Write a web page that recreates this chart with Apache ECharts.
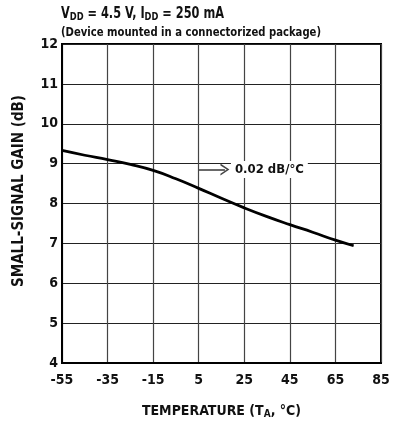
<!DOCTYPE html>
<html><head><meta charset="utf-8">
<script src="https://cdn.jsdelivr.net/npm/echarts@6/dist/echarts.min.js"></script>
<style>html,body{margin:0;padding:0;background:#fff}#c{width:396px;height:425px}</style>
</head><body><div id="c"></div>
<script>
var FONT = '"DejaVu Sans Condensed","Liberation Sans Narrow",Arial,sans-serif';
var temps = [-55, -45, -35, -25, -15, -5, 5, 15, 25, 35, 45, 55, 65, 73];
var gain  = [9.33, 9.21, 9.1, 8.98, 8.83, 8.62, 8.38, 8.13, 7.89, 7.67, 7.47, 7.28, 7.08, 6.94];
var arrowStart = [5, 8.85];
var arrowEnd = [16.5, 8.85];
var arrowText = '0.02 dB/°C';
var xTicks = [-55, 85, 20];
var yTicks = [4, 12, 1];
var titleLine1 = '{n|V}{s|DD}{n| = 4.5 V, I}{s|DD}{n| = 250 mA}';
var titleLine2 = '(Device mounted in a connectorized package)';

var chart = echarts.init(document.getElementById('c'));
chart.setOption({
  animation: false,
  backgroundColor: '#fff',
  graphic: [
    {type: 'text', x: 61, y: 6, scaleX: 0.84, silent: true,
     style: {text: titleLine1, rich: {
       n: {fontFamily: FONT, fontWeight: 'bold', fontSize: 15, fill: '#111'},
       s: {fontFamily: FONT, fontWeight: 'bold', fontSize: 11, fill: '#111', verticalAlign: 'bottom', padding: [6,0,0,0]}
     }}},
    {type: 'text', x: 61, y: 26, scaleX: 0.86, silent: true,
     style: {text: titleLine2, fontFamily: FONT, fontWeight: 'bold', fontSize: 13, fill: '#111'}}
  ],
  grid: {left: 62, right: 15, top: 44, bottom: 62, show: true, borderColor: '#000', borderWidth: 2, backgroundColor: 'transparent'},
  xAxis: {
    type: 'value', min: xTicks[0], max: xTicks[1], interval: xTicks[2],
    name: '{n|TEMPERATURE (T}{s|A}{n|, °C)}', nameLocation: 'middle', nameGap: 40,
    nameTextStyle: {rich: {
      n: {fontFamily: FONT, fontWeight: 'bold', fontSize: 14, color: '#111'},
      s: {fontFamily: FONT, fontWeight: 'bold', fontSize: 10, color: '#111', verticalAlign: 'bottom', padding: [6,0,0,0]}
    }},
    axisLine: {onZero: false, lineStyle: {color: '#000', width: 2}},
    axisTick: {show: false},
    axisLabel: {fontFamily: FONT, fontWeight: 'bold', fontSize: 14, color: '#111', margin: 10},
    splitLine: {show: true, lineStyle: {color: '#444', width: 1.2}}
  },
  yAxis: {
    type: 'value', min: yTicks[0], max: yTicks[1], interval: yTicks[2],
    name: 'SMALL-SIGNAL GAIN (dB)', nameLocation: 'middle', nameGap: 35,
    nameTextStyle: {fontFamily: FONT, fontWeight: 'bold', fontSize: 15, color: '#111', padding: [0,0,0,25]},
    axisLine: {onZero: false, lineStyle: {color: '#000', width: 2}},
    axisTick: {show: false},
    axisLabel: {fontFamily: FONT, fontWeight: 'bold', fontSize: 14, color: '#111', margin: 4},
    splitLine: {show: true, lineStyle: {color: '#222', width: 1.2}}
  },
  series: [{
    type: 'line', smooth: true, showSymbol: false,
    data: temps.map(function(t, i){ return [t, gain[i]]; }),
    lineStyle: {color: '#000', width: 2.8},
    markLine: {
      silent: true, animation: false,
      symbol: ['none', 'path://M0,12 L10,0 L20,12 L17,12 L10,3.5 L3,12 Z'],
      symbolSize: [12, 9],
      lineStyle: {color: '#444', width: 1.6, type: 'solid'},
      label: {show: true, position: 'end', formatter: arrowText, distance: 6,
              fontFamily: FONT, fontWeight: 'bold', fontSize: 13, color: '#111',
              backgroundColor: '#fff', padding: [2, 4, 2, 4]},
      data: [[{coord: arrowStart}, {coord: arrowEnd}]]
    }
  }]
});
</script></body></html>
